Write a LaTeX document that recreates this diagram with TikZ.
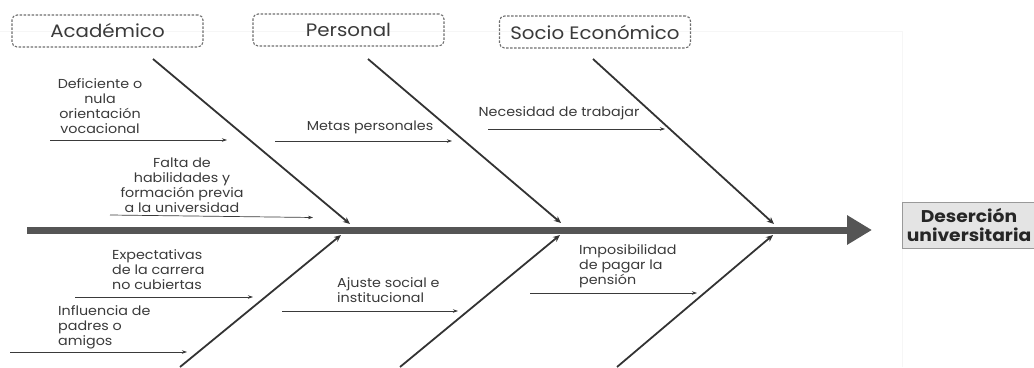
\documentclass[tikz,border=0pt]{standalone}
\usepackage{fontspec}
\setmainfont{Poppins}[FakeStretch=1.1]
\usetikzlibrary{arrows.meta}
\definecolor{txt}{HTML}{3A3A3A}
\definecolor{bone}{HTML}{333333}
\definecolor{spinec}{HTML}{555555}
\definecolor{dash}{HTML}{6E6E6E}
\definecolor{resfill}{HTML}{E4E4E4}
\tikzset{
  cat/.style={draw=dash, line width=1.1pt, dashed, dash pattern=on 2.5pt off 1.5pt, rounded corners=5pt,
    minimum width=191pt, minimum height=32pt, inner sep=0pt, text=txt, font=\fontsize{18}{20}\selectfont},
  lbl/.style={inner sep=0pt, text=txt, font=\fontsize{13}{15}\selectfont},
  bonearrow/.style={draw=bone, line width=1.8pt, -{Stealth[length=7pt,width=6pt]}},
  small/.style={draw=txt, line width=0.7pt, -{Stealth[length=5pt,width=3.5pt]}},
  spinearrow/.style={draw=spinec, line width=7pt, -{Triangle[length=25pt,width=28pt]}},
  result/.style={draw=gray!80, fill=resfill, line width=0.8pt, minimum width=134pt, minimum height=46pt,
    inner sep=0pt, align=center, font=\fontsize{17}{18.5}\selectfont\bfseries, text=black!85}
}
\begin{document}
\begin{tikzpicture}[x=1pt,y=-1pt]
\useasboundingbox (0,0) rectangle (1034,367);
% faint background frame
\draw[gray!7, line width=1pt] (0,31) -- (902,31) -- (902,367);

% categories
\node[cat] (acad) at (107.5,31) {Académico};
\node[cat] (pers) at (348.5,30) {Personal};
\node[cat] (socio) at (595,32) {Socio Económico};

% spine
\coordinate (sp0) at (27,230);
\node[result] (res) at (969,225) {Deserción\\universitaria};
\coordinate (sp1) at (872,230);
\draw[spinearrow] (sp0) -- (sp1);

% junction points
\coordinate (t1s) at (153,59);  \coordinate (t1e) at (350,224);
\coordinate (t2s) at (368,59);  \coordinate (t2e) at (561,223);
\coordinate (t3s) at (593,59);  \coordinate (t3e) at (774,224);
\coordinate (b1s) at (180,367); \coordinate (b1e) at (341,235);
\coordinate (b2s) at (400,367); \coordinate (b2e) at (560,235);
\coordinate (b3s) at (617,367); \coordinate (b3e) at (773,235);
\draw[bonearrow] (t1s) -- (t1e);
\draw[bonearrow] (t2s) -- (t2e);
\draw[bonearrow] (t3s) -- (t3e);
\draw[bonearrow] (b1s) -- (b1e);
\draw[bonearrow] (b2s) -- (b2e);
\draw[bonearrow] (b3s) -- (b3e);

% cause labels
\node[lbl, align=center] (c1) at (100,106.5) {Deficiente o\\nula\\orientación\\vocacional};
\node[lbl, align=center] (c2) at (182,185) {Falta de\\habilidades y\\formación previa\\a la universidad};
\node[lbl] (c3) at (370,127) {Metas personales};
\node[lbl] (c4) at (559,113) {Necesidad de trabajar};
\node[lbl, align=left, anchor=west] (c5) at (112,270) {Expectativas\\de la carrera\\no cubiertas};
\node[lbl, align=left, anchor=west] (c6) at (58,327) {Influencia de\\padres o\\amigos};
\node[lbl, align=left, anchor=west] (c7) at (337,290.5) {Ajuste social e\\institucional};
\node[lbl, align=left, anchor=west] (c8) at (579,266) {Imposibilidad\\de pagar la\\pensión};

% cause arrows
\coordinate (a1s) at (50,140);  \coordinate (a1e) at (227,140);
\coordinate (a2s) at (110,215); \coordinate (a2e) at (313,217.5);
\coordinate (a3s) at (275,141); \coordinate (a3e) at (452,141);
\coordinate (a4s) at (488,129); \coordinate (a4e) at (665,129);
\coordinate (a5s) at (75,297);  \coordinate (a5e) at (253,297);
\coordinate (a6s) at (10,352);  \coordinate (a6e) at (187,352);
\coordinate (a7s) at (282,311); \coordinate (a7e) at (458,311);
\coordinate (a8s) at (530,293); \coordinate (a8e) at (697,293);
\draw[small] (a1s) -- (a1e);
\draw[small] (a2s) -- (a2e);
\draw[small] (a3s) -- (a3e);
\draw[small] (a4s) -- (a4e);
\draw[small] (a5s) -- (a5e);
\draw[small] (a6s) -- (a6e);
\draw[small] (a7s) -- (a7e);
\draw[small] (a8s) -- (a8e);
\end{tikzpicture}
\end{document}
